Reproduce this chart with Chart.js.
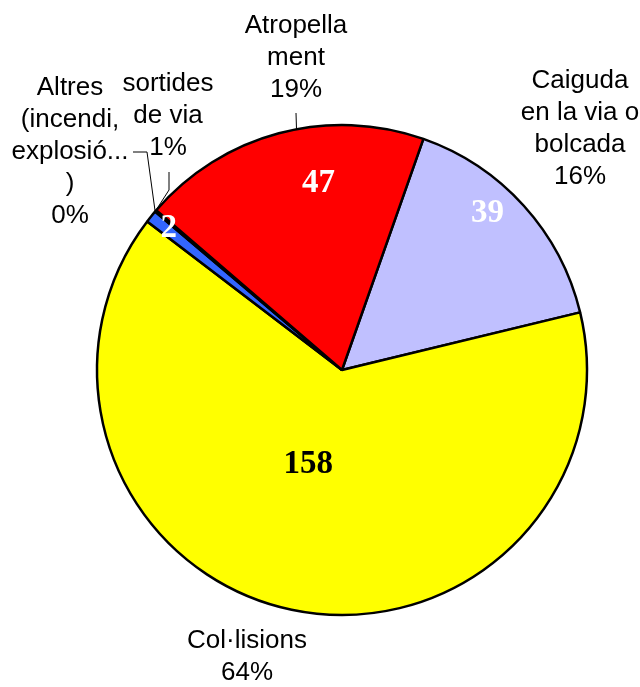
<!DOCTYPE html>
<html>
<head>
<meta charset="utf-8">
<script src="https://cdn.jsdelivr.net/npm/chart.js@4"></script>
<style>
  html, body { margin: 0; padding: 0; background: #fff; }
  #wrap { width: 640px; height: 687px; }
</style>
</head>
<body>
<div id="wrap"><canvas id="pie" width="640" height="687"></canvas></div>
<script>
// Data (slice order is clockwise from the Caiguda slice)
const categories = ['Caiguda en la via o bolcada', 'Col·lisions', 'sortides de via', 'Altres (incendi, explosió...)', 'Atropellament'];
const values = [39, 158, 2, 0.3, 47];
const valueLabels = ['39', '158', '2', '', '47'];
// how the category names are wrapped in the outer labels
const labelLines = [
    ['Caiguda', 'en la via o', 'bolcada'],
    ['Col·lisions'],
    ['sortides', 'de via'],
    ['Altres', '(incendi,', 'explosió...', ')'],
    ['Atropella', 'ment']
];
const sliceColors = ['#C0C0FF', '#FFFF00', '#3366FF', '#33AA33', '#FF0000'];
const valueColors = ['#FFFFFF', '#000000', '#FFFFFF', '#FFFFFF', '#FFFFFF'];

// Label layout (relative to pie centre)
const innerPos = [[-5, 0.873], [7.7, 0.41], [0.4, 0.913], [0, 0], [7.8, 0.767]]; // [angle shift deg, radius fraction]
const outerPos = [[238, -241], [-95, 287], [-174, -254], [-272, -218], [-46, -312]]; // text block centre
const leaders = [
    null,
    null,
    { pts: [[-173, -198], [-173, -180]], edge: 310.3 },
    { pts: [[-209, -218], [-195, -218]], edge: 310.3 },
    { pts: [[-46, -257]], edge: 349.3 }
];
const lineHeight = 32;

const total = values.reduce((a, b) => a + b, 0);
const percents = values.map(v => Math.round(v / total * 100) + '%');

const labelPlugin = {
    id: 'pieLabels',
    afterDatasetsDraw(chart) {
        const ctx = chart.ctx;
        const arcs = chart.getDatasetMeta(0).data;
        const cx = arcs[0].x, cy = arcs[0].y, r = arcs[0].outerRadius;
        ctx.save();

        // values inside the slices
        ctx.font = 'bold 33px "Liberation Serif", "Times New Roman", serif';
        ctx.textAlign = 'center';
        ctx.textBaseline = 'middle';
        arcs.forEach((arc, i) => {
            if (!valueLabels[i]) return;
            const mid = (arc.startAngle + arc.endAngle) / 2 + innerPos[i][0] * Math.PI / 180;
            const rr = r * innerPos[i][1];
            ctx.fillStyle = valueColors[i];
            ctx.fillText(valueLabels[i], cx + Math.cos(mid) * rr, cy + Math.sin(mid) * rr);
        });

        // category names with percentages
        ctx.font = '26px "Liberation Sans", Arial, sans-serif';
        ctx.fillStyle = '#000';
        categories.forEach((c, i) => {
            const lines = labelLines[i].concat([percents[i]]);
            const x = cx + outerPos[i][0];
            const y0 = cy + outerPos[i][1] - (lines.length - 1) * lineHeight / 2;
            lines.forEach((t, k) => ctx.fillText(t, x, y0 + k * lineHeight));
        });

        // leader lines
        ctx.strokeStyle = '#000';
        ctx.lineWidth = 1;
        leaders.forEach(l => {
            if (!l) return;
            ctx.beginPath();
            l.pts.forEach((p, k) => {
                if (k === 0) ctx.moveTo(cx + p[0], cy + p[1]);
                else ctx.lineTo(cx + p[0], cy + p[1]);
            });
            const a = (l.edge - 90) * Math.PI / 180;
            ctx.lineTo(cx + Math.cos(a) * r, cy + Math.sin(a) * r);
            ctx.stroke();
        });
        ctx.restore();
    }
};

new Chart(document.getElementById('pie'), {
    type: 'pie',
    data: {
        labels: categories,
        datasets: [{
            data: values,
            backgroundColor: sliceColors,
            borderColor: '#000000',
            borderWidth: 2.5
        }]
    },
    options: {
        responsive: false,
        animation: false,
        rotation: 19.4,
        radius: 245,
        layout: { padding: { left: 97, right: 53, top: 125, bottom: 72 } },
        plugins: {
            legend: { display: false },
            tooltip: { enabled: false }
        }
    },
    plugins: [labelPlugin]
});
</script>
</body>
</html>
